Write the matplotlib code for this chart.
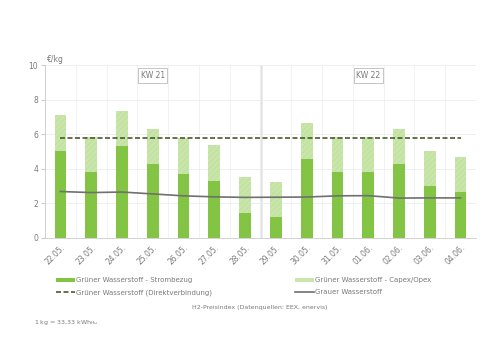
import matplotlib
matplotlib.use("Agg")
import matplotlib.pyplot as plt
import numpy as np
from matplotlib.patches import Patch
from matplotlib.lines import Line2D

# values (€/kg)
dates = ["22.05.", "23.05.", "24.05.", "25.05.", "26.05.", "27.05.", "28.05.",
         "29.05.", "30.05.", "31.05.", "01.06.", "02.06.", "03.06.", "04.06."]
strombezug = [5.05, 3.81, 5.32, 4.27, 3.69, 3.31, 1.45,
              1.20, 4.58, 3.81, 3.83, 4.26, 2.98, 2.65]
capex_opex = [2.05, 2.01, 2.05, 2.05, 2.07, 2.05, 2.05,
              2.03, 2.05, 2.01, 1.99, 2.03, 2.03, 2.03]
direktverbindung = [5.78] * 14
grauer = [2.68, 2.62, 2.65, 2.54, 2.43, 2.37, 2.34,
          2.35, 2.36, 2.43, 2.44, 2.30, 2.31, 2.31]
weeks = ["KW 21", "KW 22"]

GREEN = "#84c444"
LIGHT = "#c9e6aa"
DASH = "#4b5a2c"
GREY = "#707070"
TXT = "#7a7a7a"

plt.rcParams["hatch.color"] = "#bbde98"
plt.rcParams["hatch.linewidth"] = 0.5

fig = plt.figure(figsize=(5, 3.46), dpi=100)
ax = fig.add_axes([0.09, 0.313, 0.862, 0.498])

x = np.arange(len(dates))
ax.bar(x, strombezug, width=0.38, color=GREEN, zorder=2)
ax.bar(x, capex_opex, width=0.38, bottom=strombezug, color=LIGHT,
       hatch="//////", linewidth=0, zorder=2)
ax.plot(x, direktverbindung, color=DASH, linestyle=(0, (3, 1.5)), linewidth=1.2, zorder=3)
ax.plot(x, grauer, color=GREY, linewidth=1.2, zorder=3)

ax.set_xlim(-0.5, len(dates) - 0.5)
ax.set_ylim(0, 10)
ax.set_yticks(range(0, 11, 2))
ax.set_xticks(x)
ax.set_xticklabels(dates, rotation=45, ha="right", rotation_mode="anchor")
ax.set_xticks(np.arange(-0.5, len(dates), 1), minor=True)
ax.tick_params(axis="x", which="major", length=0, pad=4, labelsize=5.5, labelcolor=TXT)
ax.tick_params(axis="x", which="minor", length=0)
ax.tick_params(axis="y", length=3, color="#cccccc", labelsize=5.5, labelcolor=TXT, pad=2)
ax.grid(axis="y", color="#ececec", linewidth=0.6, zorder=0)
ax.grid(axis="x", which="minor", color="#f0f0f0", linewidth=0.6, zorder=0)
for s in ["top", "right"]:
    ax.spines[s].set_visible(False)
ax.spines["left"].set_color("#cccccc")
ax.spines["bottom"].set_color("#cccccc")
ax.spines["left"].set_linewidth(0.6)
ax.spines["bottom"].set_linewidth(0.6)

ax.axvline(6.5, color="#a0a0a0", linewidth=1.0, zorder=1)
for label, xc in zip(weeks, [3.0, 10.0]):
    ax.text(xc, 9.42, label, ha="center", va="center", fontsize=5.5, color=TXT,
            bbox=dict(boxstyle="square,pad=0.35", fc="white", ec="#bbbbbb", lw=0.6))

fig.text(0.094, 0.815, "€/kg", fontsize=5.5, color=TXT, ha="left", va="bottom")

handles = [
    Patch(facecolor=GREEN, label="Grüner Wasserstoff - Strombezug"),
    Line2D([], [], color=DASH, linestyle=(0, (3, 1.5)), linewidth=1.2,
           label="Grüner Wasserstoff (Direktverbindung)"),
    Patch(facecolor=LIGHT, label="Grüner Wasserstoff - Capex/Opex"),
    Line2D([], [], color=GREY, linewidth=1.2, label="Grauer Wasserstoff"),
]
fig.legend(handles=handles, ncol=2, loc="upper left", bbox_to_anchor=(0.1, 0.217),
           frameon=False, fontsize=5, labelcolor=TXT, handlelength=2.7,
           handleheight=0.55, handletextpad=0.15, columnspacing=12.0, labelspacing=0.9)

fig.text(0.52, 0.11, "H2-Preisindex (Datenquellen: EEX, enervis)", fontsize=4.5,
         color=TXT, ha="center", va="center")
fig.text(0.068, 0.069, "1 kg = 33,33 kWh$_{\\mathregular{Hu}}$", fontsize=4.5,
         color=TXT, ha="left", va="center")

fig.savefig("out.png", dpi=100, facecolor="white")
